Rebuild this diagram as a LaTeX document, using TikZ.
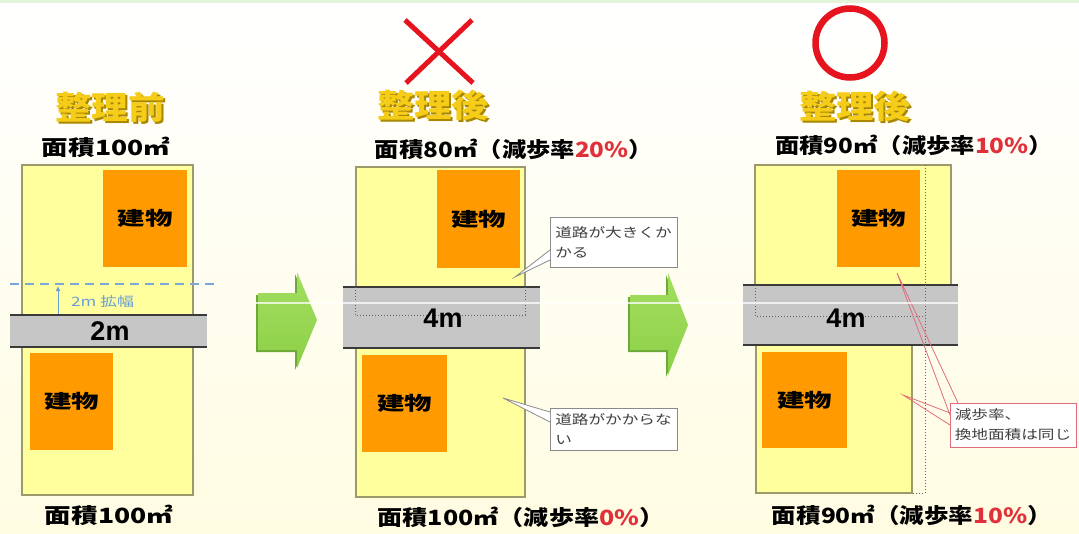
\documentclass[tikz,border=0pt]{standalone}
\usepackage{fontspec}
\newfontfamily\jp{Noto Sans CJK JP}
\newfontfamily\arialf{Liberation Sans}
\usetikzlibrary{arrows.meta}
\definecolor{bgcream}{HTML}{FFFCE2}
\definecolor{topgreen}{HTML}{E4F4DA}
\definecolor{lotfill}{HTML}{FFFF9E}
\definecolor{lotline}{HTML}{9C9A6A}
\definecolor{bldgc}{HTML}{FF9A00}
\definecolor{roadfill}{HTML}{C6C6C6}
\definecolor{roadline}{HTML}{3A3A3A}
\definecolor{gold}{HTML}{F5CC18}
\definecolor{goldsh}{HTML}{A88600}
\definecolor{redmark}{HTML}{E6141E}
\definecolor{pct}{HTML}{E0303A}
\definecolor{arrowgreen}{HTML}{8CD047}
\definecolor{arrowlight}{HTML}{A4DE60}
\definecolor{arrowdark}{HTML}{6CA83A}
\definecolor{callgray}{HTML}{8A8A8A}
\definecolor{calltext}{HTML}{404040}
\definecolor{callpink}{HTML}{E06C7C}
\definecolor{blueline}{HTML}{7BA7D9}
\definecolor{bluetext}{HTML}{6A9ED6}
\definecolor{dotc}{HTML}{606060}
\newcommand{\fitw}[2]{\resizebox{#1}{\height}{#2}}
\newcommand{\sxj}[1]{\scalebox{1.28}[1]{#1}}
\begin{document}
\begin{tikzpicture}[x=1pt,y=-1pt,
  lot/.style={fill=lotfill,draw=lotline,line width=1.2pt,inner sep=0pt,outer sep=0pt,anchor=north west},
  bldg/.style={fill=bldgc,inner sep=0pt,outer sep=0pt,anchor=north west,font=\fontsize{19}{19}\selectfont\jp\bfseries},
  roadbox/.style={fill=roadfill,inner sep=0pt,outer sep=0pt,anchor=north west},
  roadedge/.style={draw=roadline,line width=2pt},
  roadlabel/.style={font=\fontsize{27}{27}\selectfont\arialf\bfseries,inner sep=0pt},
  dots/.style={draw=dotc,dotted,line width=1pt},
  areatext/.style={font=\fontsize{21}{21}\selectfont\jp\bfseries,inner sep=0pt},
  title/.style={font=\fontsize{32}{32}\selectfont\jp\bfseries,text=gold,inner sep=0pt},
  titleshadow/.style={title,text=goldsh},
  callbox/.style={fill=white,draw=callgray,line width=0.8pt,inner sep=0pt,outer sep=0pt,anchor=north west,align=left,font=\fontsize{13}{20}\selectfont\jp,text=calltext},
  calltail/.style={draw=callgray,line width=0.8pt,fill=white},
  pinkbox/.style={callbox,draw=callpink},
  pinktail/.style={draw=callpink,line width=0.8pt},
  greenarrow/.style={top color=arrowlight,bottom color=arrowgreen,draw=none},
  greenshadow/.style={fill=arrowdark,draw=none},
  redstroke/.style={draw=redmark,line width=5pt},
  bluedash/.style={draw=blueline,line width=1.2pt,dash pattern=on 9pt off 6pt},
  bluearrow/.style={draw=bluetext,line width=1pt,-{Latex[length=5pt,width=5pt]}},
  artifact/.style={draw=white,line width=1.2pt,opacity=0.75}
]
\useasboundingbox (0,0) rectangle (1079,533);
\fill[top color=white,bottom color=bgcream] (0,0) rectangle (1079,533);
\fill[topgreen] (0,0) rectangle (1079,3);

% ---------------- Panel 1 ----------------
\node[titleshadow] (t1s) at (112,109) {\fitw{110pt}{整理前}};
\node[title] (t1) at (110,107) {\fitw{110pt}{整理前}};
\node[areatext] (a1top) at (106,147) {\fitw{128pt}{面積100㎡}};
\node[lot,minimum width=171pt,minimum height=330pt] (lot1) at (22,165) {};
\node[bldg,minimum width=84pt,minimum height=97pt] (b1) at (103,170) {\fitw{55pt}{建物}};
\node[bldg,minimum width=83pt,minimum height=97pt] (b2) at (30,353) {\fitw{55pt}{建物}};
\node[roadbox,minimum width=197pt,minimum height=32pt] (r1) at (10,315) {};
\draw[roadedge] (r1.north west) -- (r1.north east);
\draw[roadedge] (r1.south west) -- (r1.south east);
\node[roadlabel] (r1l) at (110,331) {2m};
\coordinate (d1a) at (10,284);
\coordinate (d1b) at (215,284);
\draw[bluedash] (d1a) -- (d1b);
\coordinate (w1s) at (58,314);
\coordinate (w1e) at (58,286);
\draw[bluearrow] (w1s) -- (w1e);
\node[font=\fontsize{13}{13}\selectfont\jp,text=bluetext,anchor=west,inner sep=0pt] (wlab) at (71,302) {\fitw{63pt}{2m 拡幅}};
\node[areatext] (a1bot) at (109,515) {\fitw{128pt}{面積100㎡}};

% ---------------- Arrow 1 ----------------
\fill[greenshadow] (256,295) -- (295,295) -- (295,274) -- (315,322) -- (295,370) -- (295,352) -- (256,352) -- cycle;
\shade[greenarrow] (258,293) -- (297,293) -- (297,272) -- (317,320) -- (297,368) -- (297,350) -- (258,350) -- cycle;

% ---------------- Panel 2 ----------------
\coordinate (x1a) at (405,20);
\coordinate (x1b) at (473,83);
\coordinate (x1c) at (472,20);
\coordinate (x1d) at (406,83);
\draw[redstroke] (x1a) -- (x1b);
\draw[redstroke] (x1c) -- (x1d);
\node[titleshadow] (t2s) at (435,107) {\fitw{112pt}{整理後}};
\node[title] (t2) at (433,105) {\fitw{112pt}{整理後}};
\node[areatext] (a2top) at (514,149) {\fitw{278pt}{面積80㎡（減歩率\textcolor{pct}{20\%}）}};
\node[lot,minimum width=169pt,minimum height=330pt] (lot2) at (356,167) {};
\node[bldg,minimum width=83pt,minimum height=98pt] (b3) at (437,170) {\fitw{55pt}{建物}};
\node[bldg,minimum width=85pt,minimum height=97pt] (b4) at (362,355) {\fitw{55pt}{建物}};
\node[roadbox,minimum width=197pt,minimum height=61pt] (r2) at (343,287) {};
\draw[roadedge] (r2.north west) -- (r2.north east);
\draw[roadedge] (r2.south west) -- (r2.south east);
\coordinate (o2a) at (355,287);
\coordinate (o2b) at (355,315);
\coordinate (o2c) at (525,315);
\coordinate (o2d) at (525,287);
\draw[dots] (o2a) -- (o2b) -- (o2c) -- (o2d);
\node[roadlabel] (r2l) at (443,318) {4m};
\node[areatext] (a2bot) at (521,517) {\fitw{287pt}{面積100㎡（減歩率\textcolor{pct}{0\%}）}};

% callout 1
\node[callbox,minimum width=127pt,minimum height=50pt] (c1) at (550,217) {\sxj{道路が大きくか}\\\sxj{かる}};
\coordinate (c1tip) at (515,277);
\draw[calltail] ([yshift=17pt]c1.south west) -- (c1tip) -- ([yshift=7pt]c1.south west);
% callout 2
\node[callbox,minimum width=127pt,minimum height=42pt] (c2) at (550,408) {\sxj{道路がかからな}\\\sxj{い}};
\coordinate (c2tip) at (503,398);
\draw[calltail] ([yshift=-4pt]c2.north west) -- (c2tip) -- ([yshift=-14pt]c2.north west);

% ---------------- Arrow 2 ----------------
\fill[greenshadow] (628,297) -- (666,297) -- (666,275) -- (686,327) -- (666,377) -- (666,352) -- (628,352) -- cycle;
\shade[greenarrow] (630,295) -- (668,295) -- (668,273) -- (688,325) -- (668,375) -- (668,350) -- (630,350) -- cycle;

% ---------------- Panel 3 ----------------
\node[circle,draw=redmark,line width=6.5pt,minimum size=69pt,inner sep=0pt] (okmark) at (850,43) {};
\node[titleshadow] (t3s) at (857,108) {\fitw{112pt}{整理後}};
\node[title] (t3) at (855,106) {\fitw{112pt}{整理後}};
\node[areatext] (a3top) at (914,145) {\fitw{278pt}{面積90㎡（減歩率\textcolor{pct}{10\%}）}};
\node[lot,minimum width=196pt,minimum height=125pt] (lot3a) at (755,165) {};
\node[lot,minimum width=156pt,minimum height=150pt] (lot3b) at (756,343) {};
\node[bldg,minimum width=83pt,minimum height=97pt] (b5) at (837,170) {\fitw{55pt}{建物}};
\node[bldg,minimum width=85pt,minimum height=96pt] (b6) at (762,352) {\fitw{55pt}{建物}};
\node[roadbox,minimum width=215pt,minimum height=60pt] (r3) at (743,285) {};
\draw[roadedge] (r3.north west) -- (r3.north east);
\draw[roadedge] (r3.south west) -- (r3.south east);
\coordinate (o3a) at (755,285);
\coordinate (o3b) at (755,316);
\coordinate (o3c) at (925,316);
\draw[dots] (o3a) -- (o3b) -- (o3c);
\coordinate (o3d) at (925,165);
\coordinate (o3e) at (925,493);
\coordinate (o3f) at (912,493);
\draw[dots] (o3d) -- (o3e) -- (o3f);
\node[roadlabel] (r3l) at (846,318) {4m};
\node[areatext] (a3bot) at (912,515) {\fitw{280pt}{面積90㎡（減歩率\textcolor{pct}{10\%}）}};

% callout 3
\node[pinkbox,minimum width=126pt,minimum height=44pt] (c3) at (950,403) {\sxj{減歩率、}\\\sxj{換地面積は同じ}};
\coordinate (c3tipa) at (897,273);
\coordinate (c3tipb) at (903,395);
\draw[pinktail] ([yshift=-12pt]c3.north west) -- (c3tipa) -- ([xshift=8pt]c3.north west);
\draw[pinktail] ([yshift=-10pt]c3.north west) -- (c3tipb) -- ([yshift=-22pt]c3.north west);

% compression streak across the roads and arrows
\coordinate (s1) at (255,303);
\coordinate (s2) at (960,303);
\draw[artifact] (s1) -- (s2);
\end{tikzpicture}
\end{document}
